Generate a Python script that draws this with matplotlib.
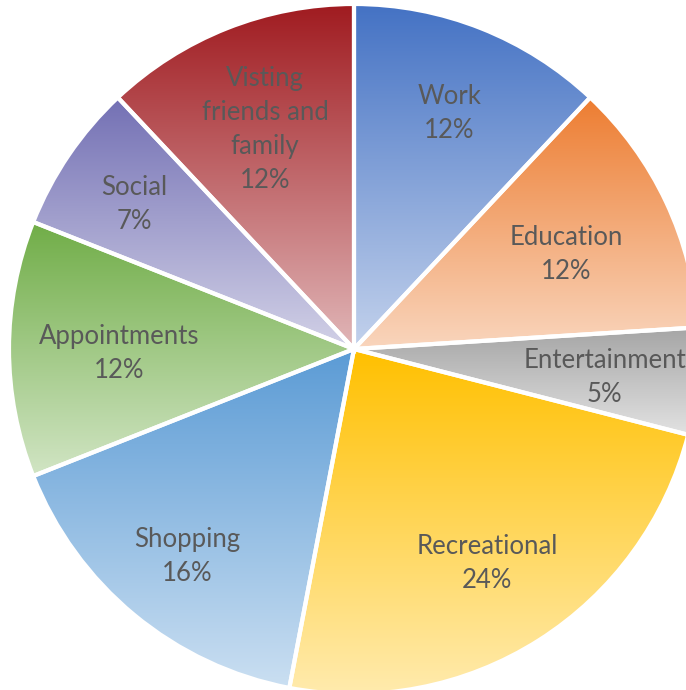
import numpy as np
import matplotlib.pyplot as plt
import matplotlib.transforms as mtransforms
from matplotlib.colors import LinearSegmentedColormap, to_rgb

# Trip purposes, clockwise from 12 o'clock
purposes = ["Work", "Education", "Entertainment", "Recreational",
            "Shopping", "Appointments", "Social", "Visting\nfriends and\nfamily"]
shares = [12, 12, 5, 24, 16, 12, 7, 12]

# slice gradients: darker shade at the top, pale tint at the bottom
top_colors = ["#4472C4", "#ED7D31", "#A5A5A5", "#FFC000",
              "#5B9BD5", "#70AD47", "#7370B4", "#A01B20"]

# how far out each label sits, as a fraction of the radius
label_r = [0.75, 0.68, 0.73, 0.72, 0.76, 0.68, 0.77, 0.70]

plt.rcParams['font.family'] = ['Lato', 'DejaVu Sans']

fig = plt.figure(figsize=(6.86, 6.90), dpi=100)
ax = fig.add_axes([0, 0, 1, 1])

wedges, _ = ax.pie(shares, startangle=90, counterclock=False, radius=1,
                   wedgeprops=dict(edgecolor='white', linewidth=3, facecolor='none'))

grad = np.linspace(0, 1, 256).reshape(-1, 1)
for w, c in zip(wedges, top_colors):
    top = np.array(to_rgb(c))
    bottom = top + (1 - top) * 0.68
    cmap = LinearSegmentedColormap.from_list("g", [top, bottom])
    bb = w.get_path().get_extents()
    im = ax.imshow(grad, cmap=cmap, extent=(bb.x0, bb.x1, bb.y0, bb.y1),
                   origin='upper', aspect='auto', interpolation='bilinear', zorder=1.5)
    im.set_clip_path(w)
    w.set_zorder(2)

# data labels inside the slices, nudged a few pixels down
label_tr = mtransforms.offset_copy(ax.transData, fig=fig, x=0, y=-5, units='dots')
for w, name, pct, r in zip(wedges, purposes, shares, label_r):
    mid = np.deg2rad((w.theta1 + w.theta2) / 2)
    ax.text(r * np.cos(mid), r * np.sin(mid), f"{name}\n{pct}%",
            ha='center', va='center', fontsize=18.5, color='#595959',
            linespacing=1.45, zorder=3, transform=label_tr)

# pie centre sits at (354, 349) px with a 345 px radius; the rim runs off the canvas
rad = 345.0
ax.set_autoscale_on(False)
ax.set_xlim(-354 / rad, (686 - 354) / rad)
ax.set_ylim(-(690 - 349) / rad, 349 / rad)
ax.set_axis_off()

fig.savefig("out.png", dpi=100)
